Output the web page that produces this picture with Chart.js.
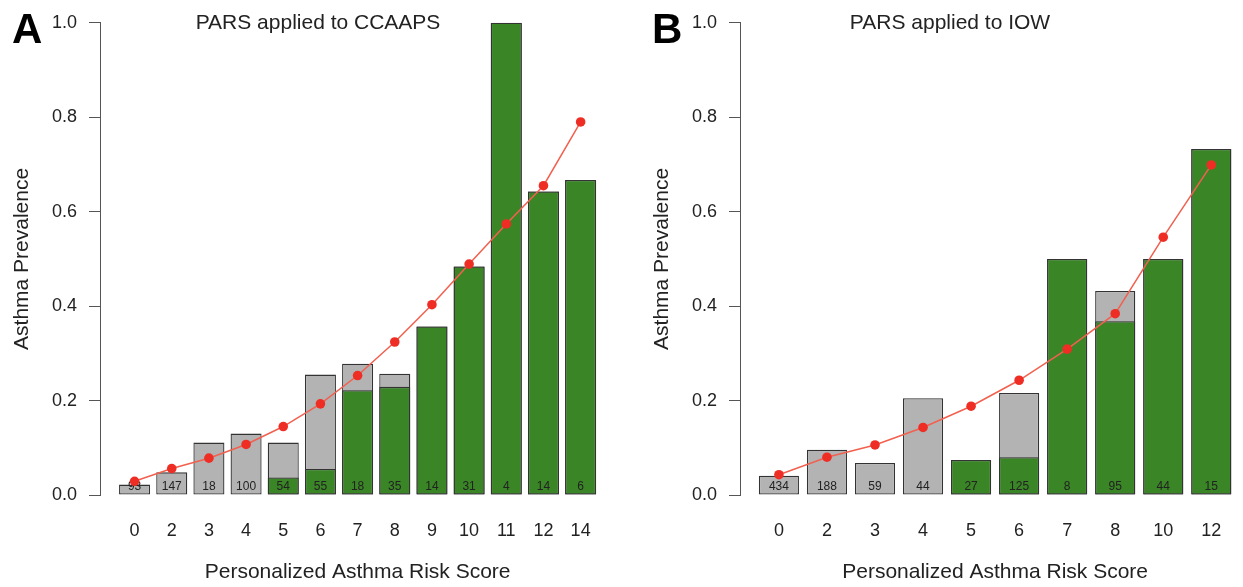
<!DOCTYPE html>
<html>
<head>
<meta charset="utf-8">
<script src="https://cdn.jsdelivr.net/npm/chart.js@4.4.1/dist/chart.umd.min.js"></script>
<style>
  html, body { margin: 0; padding: 0; background: #fff; overflow: hidden; }
  #wrap { position: relative; width: 1243px; height: 587px; overflow: hidden; }
  #chartA { position: absolute; left: 0; top: 0; }
  #chartB { position: absolute; left: 620px; top: 0; }
</style>
</head>
<body>
<div id="wrap">
  <canvas id="chartA" width="620" height="587"></canvas>
  <canvas id="chartB" width="635" height="587"></canvas>
</div>
<script>
// panel A : PARS applied to CCAAPS
var scoresA = ['0', '2', '3', '4', '5', '6', '7', '8', '9', '10', '11', '12', '14'];
var countsA = [93, 147, 18, 100, 54, 55, 18, 35, 14, 31, 4, 14, 6];
var observedA = [0.022, 0.048, 0.111, 0.130, 0.111, 0.255, 0.278, 0.257, 0.357, 0.484, 1.000, 0.643, 0.667];
var greenA = [null, null, null, null, 0.037, 0.055, 0.222, 0.229, 0.357, 0.484, 1.000, 0.643, 0.667];
var predictedA = [0.029, 0.056, 0.078, 0.107, 0.145, 0.193, 0.253, 0.324, 0.403, 0.489, 0.574, 0.655, 0.790];

// panel B : PARS applied to IOW
var scoresB = ['0', '2', '3', '4', '5', '6', '7', '8', '10', '12'];
var countsB = [434, 188, 59, 44, 27, 125, 8, 95, 44, 15];
var observedB = [0.041, 0.096, 0.068, 0.205, 0.074, 0.216, 0.500, 0.432, 0.500, 0.733];
var greenB = [null, null, null, null, 0.074, 0.080, 0.500, 0.368, 0.500, 0.733];
var predictedB = [0.043, 0.080, 0.106, 0.143, 0.188, 0.243, 0.309, 0.384, 0.546, 0.699];

var yTicks = [0, 0.2, 0.4, 0.6, 0.8, 1.0];

var fontName = "'Liberation Sans', Arial, Helvetica, sans-serif";
var textColor = '#222';
var axisColor = '#555';

function toPoints(vals) {
  return vals.map(function(v, i) { return { x: i, y: v }; });
}

// counts inside the bars + panel letter + title
var panelText = {
  id: 'panelText',
  afterDatasetDraw: function(chart, args, opts) {
    if (args.index !== 1) return;
    var ctx = chart.ctx;
    var y0 = chart.scales.y.getPixelForValue(0);
    ctx.save();
    ctx.font = '12px ' + fontName;
    ctx.fillStyle = textColor;
    ctx.textAlign = 'center';
    ctx.textBaseline = 'alphabetic';
    for (var i = 0; i < opts.counts.length; i++) {
      ctx.fillText(String(opts.counts[i]), chart.scales.x.getPixelForValue(i), y0 - 5.5);
    }
    ctx.restore();
  },
  afterDraw: function(chart, args, opts) {
    var ctx = chart.ctx;
    ctx.save();
    ctx.fillStyle = '#000';
    ctx.textBaseline = 'alphabetic';
    ctx.textAlign = 'left';
    ctx.font = 'bold 42px ' + fontName;
    ctx.fillText(opts.letter, opts.letterX, 43);
    ctx.fillStyle = textColor;
    ctx.textAlign = 'center';
    ctx.font = '21px ' + fontName;
    ctx.fillText(opts.title, opts.titleX, 29);
    ctx.restore();
  }
};

function makePanel(id, scores, counts, observed, green, predicted, cfg) {
  var ctx = document.getElementById(id);
  return new Chart(ctx, {
    type: 'bar',
    data: {
      datasets: [{
        label: 'all',
        data: toPoints(observed),
        backgroundColor: '#b3b3b3',
        borderColor: '#333',
        borderWidth: 1.3,
        borderSkipped: false,
        grouped: false,
        categoryPercentage: 1,
        barPercentage: 0.835,
        order: 3
      }, {
        label: 'green',
        data: toPoints(green),
        backgroundColor: '#3a8626',
        borderColor: '#333',
        borderWidth: 1.3,
        borderSkipped: false,
        grouped: false,
        categoryPercentage: 1,
        barPercentage: 0.835,
        order: 2
      }, {
        type: 'line',
        label: 'PARS',
        data: toPoints(predicted),
        borderColor: '#f2604f',
        borderWidth: 1.5,
        backgroundColor: '#ee2e24',
        pointBackgroundColor: '#ee2e24',
        pointBorderWidth: 0,
        pointRadius: 4.8,
        tension: 0,
        order: 1
      }]
    },
    options: {
      responsive: false,
      animation: false,
      layout: { padding: { top: 20, right: cfg.padRight, left: 0, bottom: 0 } },
      plugins: {
        legend: { display: false },
        tooltip: { enabled: false },
        panelText: { counts: counts, letter: cfg.letter, letterX: cfg.letterX, title: cfg.title, titleX: cfg.titleX }
      },
      scales: {
        x: {
          type: 'linear',
          offset: false,
          min: cfg.xMin,
          max: cfg.xMax,
          grid: { display: false, drawTicks: false },
          border: { display: false },
          afterBuildTicks: function(scale) {
            scale.ticks = scores.map(function(s, i) { return { value: i }; });
          },
          afterFit: function(scale) { scale.height = 92; },
          ticks: {
            autoSkip: false,
            maxRotation: 0,
            padding: 25,
            color: textColor,
            font: { family: fontName, size: 18 },
            callback: function(v) { return scores[v]; }
          },
          title: {
            display: true,
            text: 'Personalized Asthma Risk Score',
            color: textColor,
            font: { family: fontName, size: 21, lineHeight: 1 },
            padding: { top: 0, bottom: 4 }
          }
        },
        y: {
          min: 0,
          max: 1,
          afterBuildTicks: function(scale) {
            scale.ticks = yTicks.map(function(v) { return { value: v }; });
          },
          afterFit: function(scale) { scale.width = cfg.yWidth; },
          grid: { drawOnChartArea: false, drawTicks: true, tickLength: 11, color: axisColor },
          border: { display: true, color: axisColor, width: 1 },
          ticks: {
            padding: 12,
            color: textColor,
            font: { family: fontName, size: 18 },
            callback: function(v) { return v.toFixed(1); }
          },
          title: {
            display: true,
            text: 'Asthma Prevalence',
            color: textColor,
            font: { family: fontName, size: 21, lineHeight: 1 },
            padding: { top: cfg.yTitlePad, bottom: 0 }
          }
        }
      }
    },
    plugins: [panelText]
  });
}

makePanel('chartA', scoresA, countsA, observedA, greenA, predictedA, {
  letter: 'A', letterX: 12, title: 'PARS applied to CCAAPS', titleX: 318,
  yWidth: 100, padRight: 2, xMin: -0.93, xMax: 12.93, yTitlePad: 12
});

makePanel('chartB', scoresB, countsB, observedB, greenB, predictedB, {
  letter: 'B', letterX: 32, title: 'PARS applied to IOW', titleX: 330,
  yWidth: 120, padRight: 0, xMin: -0.81, xMax: 9.81, yTitlePad: 32
});
</script>
</body>
</html>
